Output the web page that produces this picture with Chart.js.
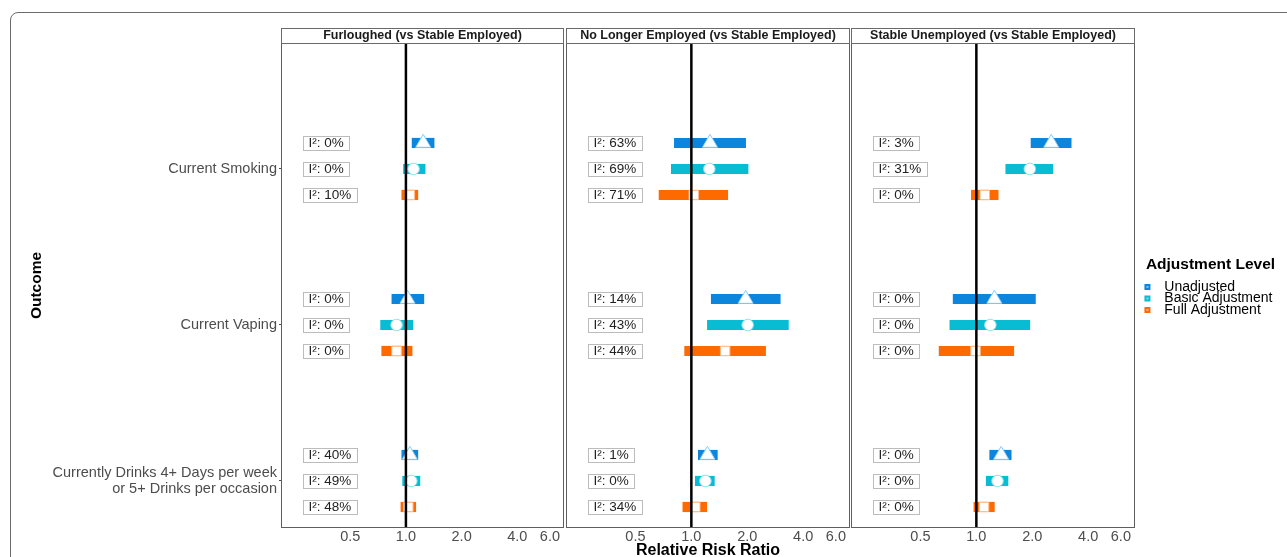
<!DOCTYPE html>
<html>
<head>
<meta charset="utf-8">
<script src="https://cdn.jsdelivr.net/npm/chart.js@4.4.1/dist/chart.umd.min.js"></script>
<style>
  html, body { margin: 0; padding: 0; background: #ffffff; width: 1287px; height: 557px; overflow: hidden; }
  #frame { position: absolute; left: 10px; top: 12px; width: 1340px; height: 620px; border: 1px solid #6b6b6b; border-radius: 8px; box-sizing: border-box; }
  canvas { position: absolute; top: 0; }
</style>
</head>
<body>
<div id="frame"></div>
<canvas id="p1" width="566" height="557" style="left:0px"></canvas>
<canvas id="p2" width="288" height="557" style="left:564px"></canvas>
<canvas id="p3" width="438" height="557" style="left:849px"></canvas>
<script>
// ---------------- DATA ----------------
const OUTCOMES = ['Current Smoking', 'Current Vaping', ['Currently Drinks 4+ Days per week', 'or 5+ Drinks per occasion']];
const PANEL_TITLES = ['Furloughed (vs Stable Employed)', 'No Longer Employed (vs Stable Employed)', 'Stable Unemployed (vs Stable Employed)'];
const LEVELS = ['Unadjusted', 'Basic Adjustment', 'Full Adjustment'];
const X_TICKS = [0.5, 1, 2, 4, 6];
const REF_VALUE = 1;

// each row: [estimate, lower CI, upper CI]; rows follow OUTCOMES order
const furloughedUnadjusted = [[1.24, 1.08, 1.42], [1.02, 0.84, 1.25], [1.05, 0.95, 1.16]];
const furloughedBasic      = [[1.10, 0.97, 1.27], [0.89, 0.73, 1.09], [1.07, 0.96, 1.19]];
const furloughedFull       = [[1.05, 0.95, 1.16], [0.89, 0.74, 1.08], [1.03, 0.94, 1.13]];

const noLongerUnadjusted = [[1.26, 0.81, 1.96], [1.96, 1.28, 3.01], [1.22, 1.09, 1.38]];
const noLongerBasic      = [[1.25, 0.78, 2.02], [2.01, 1.22, 3.33], [1.19, 1.05, 1.33]];
const noLongerFull       = [[1.03, 0.67, 1.57], [1.52, 0.92, 2.51], [1.05, 0.90, 1.21]];

const stableUnadjusted = [[2.53, 1.97, 3.24], [1.25, 0.75, 2.08], [1.36, 1.18, 1.54]];
const stableBasic      = [[1.94, 1.44, 2.58], [1.19, 0.72, 1.94], [1.30, 1.13, 1.48]];
const stableFull       = [[1.11, 0.94, 1.31], [0.99, 0.63, 1.59], [1.10, 0.97, 1.25]];

// I² (%) per outcome: [unadjusted, basic, full]
const furloughedI2 = [[0, 0, 10], [0, 0, 0], [40, 49, 48]];
const noLongerI2   = [[63, 69, 71], [14, 43, 44], [1, 0, 34]];
const stableI2     = [[3, 31, 0], [0, 0, 0], [0, 0, 0]];

// ---------------- STYLE ----------------
const FONT = "'Liberation Sans', Arial, Helvetica, sans-serif";
const LEVEL_COLORS = ['#0b86dc', '#08bdd3', '#ff6a00'];
const MARKER_EDGE = ['#93cbf1', '#8fdfe9', '#ffb98a'];
const MARKER_STYLE = ['triangle', 'circle', 'rect'];
const MARKER_RADIUS = [8.7, 5.8, 6.7];
const DODGE = [-1 / 6, 0, 1 / 6];
const Y_MIN = -0.801, Y_MAX = 2.295;
const X_MIN = 0.214, X_MAX = 7.06;
const I2_X = 0.278;
const TICK_GREY = '#4d4d4d';

const panelFrame = {
  id: 'panelFrame',
  afterDraw(chart) {
    const { ctx, chartArea: a } = chart;
    const tb = chart.titleBlock;
    ctx.save();
    ctx.lineWidth = 1;
    ctx.strokeStyle = '#5e5e5e';
    ctx.strokeRect(a.left - 0.5, a.top - 0.5, a.right - a.left + 1, a.bottom - a.top + 1);
    ctx.strokeStyle = '#6a6a6a';
    ctx.strokeRect(tb.left - 0.5, tb.top + 0.5, tb.width + 1, tb.height - 1);
    ctx.restore();
  }
};

function i2Plugin(values) {
  return {
    id: 'i2labels',
    afterDatasetsDraw(chart) {
      const { ctx, scales: { x, y } } = chart;
      ctx.save();
      ctx.font = '13.5px ' + FONT;
      ctx.textBaseline = 'middle';
      ctx.textAlign = 'left';
      values.forEach((row, i) => row.forEach((v, k) => {
        const txt = 'I\u00b2: ' + v + '%';
        const px = Math.round(x.getPixelForValue(I2_X)) + 0.5;
        const py = y.getPixelForValue(i + DODGE[k]);
        const w = Math.round(ctx.measureText(txt).width + 11);
        const h = 14;
        const top = Math.round(py - h / 2) + 0.5;
        ctx.fillStyle = '#ffffff';
        ctx.fillRect(px, top, w, h);
        ctx.strokeStyle = '#bcbcbc';
        ctx.lineWidth = 1;
        ctx.strokeRect(px, top, w, h);
        ctx.fillStyle = '#222222';
        ctx.fillText(txt, px + 5, py + 0.5);
      }));
      ctx.restore();
    }
  };
}

const fixedLegend = {
  id: 'fixedLegend',
  afterInit(chart) {
    const lg = chart.legend;
    if (!lg || !chart.options.plugins.legend.display) return;
    const orig = lg.fit.bind(lg);
    lg.fit = function () { orig(); this.width = 153; };
  }
};

function swatch(color) {
  const c = document.createElement('canvas');
  c.width = 26; c.height = 8;
  const g = c.getContext('2d');
  g.fillStyle = color;
  g.fillRect(13, 1, 6, 6);
  g.fillStyle = '#ffffff';
  g.fillRect(15.3, 3.3, 1.4, 1.4);
  return c;
}

function makePanel(id, idx, levelRows, i2, cfg) {
  const datasets = [{
    type: 'line', label: 'ref',
    data: [{ x: REF_VALUE, y: Y_MIN }, { x: REF_VALUE, y: Y_MAX }],
    borderColor: '#000000', borderWidth: 2.5, pointRadius: 0, order: 0
  }];
  levelRows.forEach((rows, k) => datasets.push({
    type: 'scatter', label: LEVELS[k],
    data: rows.map((r, i) => ({ x: r[0], y: i + DODGE[k] })),
    pointStyle: MARKER_STYLE[k], pointRadius: MARKER_RADIUS[k],
    pointBackgroundColor: '#ffffff', pointBorderColor: MARKER_EDGE[k], pointBorderWidth: 1,
    order: 1
  }));
  levelRows.forEach((rows, k) => datasets.push({
    type: 'bar', label: LEVELS[k], indexAxis: 'y', grouped: false,
    data: rows.map((r, i) => ({ x: [r[1], r[2]], y: i + DODGE[k] })),
    backgroundColor: LEVEL_COLORS[k], borderWidth: 0, barThickness: 9.5,
    order: 2
  }));

  const showY = idx === 0;
  const legendOn = idx === 2;

  return new Chart(document.getElementById(id), {
    type: 'scatter',
    data: { datasets },
    plugins: [panelFrame, i2Plugin(i2), fixedLegend],
    options: {
      responsive: false,
      animation: false,
      events: [],
      layout: { padding: cfg.padding, autoPadding: false },
      scales: {
        x: {
          type: 'logarithmic', min: X_MIN, max: X_MAX, bounds: 'data', offset: false,
          grid: { display: false, drawTicks: false, offset: false }, border: { display: false },
          afterBuildTicks: s => { s.ticks = X_TICKS.map(v => ({ value: v })); },
          afterFit: s => { s.height = 30; s.paddingLeft = 0; s.paddingRight = 0; },
          ticks: {
            autoSkip: false, maxRotation: 0, padding: 3, color: TICK_GREY,
            font: { family: FONT, size: 14.5, lineHeight: '14px' },
            callback: v => Number(v).toFixed(1)
          },
          title: {
            display: idx === 1, text: 'Relative Risk Ratio', color: '#000000', padding: 0,
            font: { family: FONT, size: 16, weight: 'bold', lineHeight: '12px' }
          }
        },
        y: {
          type: 'linear', min: Y_MIN, max: Y_MAX, reverse: true, bounds: 'data', offset: false,
          display: showY,
          grid: { display: true, offset: false, drawOnChartArea: false, drawTicks: true, tickLength: 3, color: TICK_GREY },
          border: { display: false },
          afterBuildTicks: s => { s.ticks = OUTCOMES.map((_, i) => ({ value: i })); },
          afterFit: s => { if (showY) { s.width = 254; s.paddingTop = 0; s.paddingBottom = 0; } },
          ticks: {
            padding: 2, color: TICK_GREY,
            font: { family: FONT, size: 14.5, lineHeight: '16.5px' },
            callback: (v, i) => OUTCOMES[i]
          },
          title: {
            display: showY, text: 'Outcome', color: '#000000', padding: 0,
            font: { family: FONT, size: 15.5, weight: 'bold', lineHeight: '18px' }
          }
        }
      },
      plugins: {
        tooltip: { enabled: false },
        title: {
          display: true, text: PANEL_TITLES[idx], position: 'top', fullSize: false, align: 'center',
          color: '#1a1a1a', padding: 0,
          font: { family: FONT, size: 12.5, weight: 'bold', lineHeight: '16px' }
        },
        legend: {
          display: legendOn, position: 'right', align: 'center',
          title: {
            display: true, text: 'Adjustment Level', position: 'center', color: '#000000',
            padding: { top: -13.75, bottom: 7.75 },
            font: { family: FONT, size: 15.5, weight: 'bold', lineHeight: '18px' }
          },
          labels: {
            usePointStyle: true, pointStyleWidth: 25.8, padding: -2.5,
            color: '#1a1a1a', font: { family: FONT, size: 14 },
            generateLabels: () => LEVELS.map((t, k) => ({
              text: t, pointStyle: swatch(LEVEL_COLORS[k]), fillStyle: LEVEL_COLORS[k],
              strokeStyle: LEVEL_COLORS[k], lineWidth: 0, hidden: false, datasetIndex: k + 1
            }))
          }
        }
      }
    }
  });
}

makePanel('p1', 0, [furloughedUnadjusted, furloughedBasic, furloughedFull], furloughedI2,
  { padding: { left: 28, right: 3, top: 28, bottom: 0 } });
makePanel('p2', 1, [noLongerUnadjusted, noLongerBasic, noLongerFull], noLongerI2,
  { padding: { left: 3, right: 3, top: 28, bottom: 0 } });
makePanel('p3', 2, [stableUnadjusted, stableBasic, stableFull], stableI2,
  { padding: { left: 3, right: 0, top: 28, bottom: 0 } });
</script>
</body>
</html>
